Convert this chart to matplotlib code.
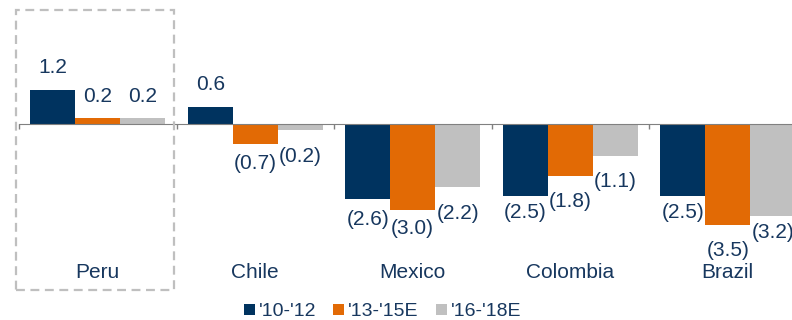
import matplotlib

matplotlib.use("Agg")
import matplotlib.pyplot as plt
import matplotlib.transforms as mtransforms
import numpy as np
from matplotlib.patches import Rectangle

plt.rcParams["font.family"] = ["Liberation Sans", "DejaVu Sans"]

countries = ["Peru", "Chile", "Mexico", "Colombia", "Brazil"]
periods = ["'10-'12", "'13-'15E", "'16-'18E"]
growth_10_12 = [1.2, 0.6, -2.6, -2.5, -2.5]
growth_13_15 = [0.2, -0.7, -3.0, -1.8, -3.5]
growth_16_18 = [0.2, -0.2, -2.2, -1.1, -3.2]

COLORS = ["#00335F", "#E26A05", "#C0C0C0"]
TEXT = "#17375E"
DPI = 100
# per-bar gap (px) between a negative bar's end and its value label
NEG_GAP = [
    [22, 19, 27],
    [22, 19, 27],
    [21, 18, 26],
    [17, 26, 26],
    [17, 25.5, 17],
]


def fmt(value: float) -> str:
    return f"({abs(value):.1f})" if value < 0 else f"{value:.1f}"


fig = plt.figure(figsize=(7.92, 3.2), dpi=DPI, facecolor="white")
# axes spans pixels x 19..806.5 (runs off the right edge), y 10..290
W, H = 792.0, 320.0
ax = fig.add_axes([19 / W, (H - 290) / H, 787.5 / W, 280 / H])
px_per_unit = 28.75
ax.set_ylim(-(290 - 124) / px_per_unit, (124 - 10) / px_per_unit)
ax.set_xlim(0, len(countries))

series = [growth_10_12, growth_13_15, growth_16_18]
width = 45 / 157.5
centers = np.arange(len(countries)) + 0.5
for k, (values, color, label) in enumerate(zip(series, COLORS, periods)):
    xs = centers + (k - 1) * width
    ax.bar(xs, values, width=width, color=color, label=label, zorder=2)
    for i, (x, v) in enumerate(zip(xs, values)):
        gap = 22 if v >= 0 else NEG_GAP[i][k]
        ax.annotate(
            fmt(v),
            xy=(x, v),
            xytext=(0, (gap if v >= 0 else -gap) * 72 / DPI),
            textcoords="offset points",
            ha="center",
            va="center",
            fontsize=15,
            color=TEXT,
        )

# category names sit near the bottom of the axes
trans = mtransforms.blended_transform_factory(ax.transData, ax.transAxes)
for x, name in zip(centers, countries):
    ax.text(x, 18 / 280, name, transform=trans, ha="center", va="center",
            fontsize=15, color=TEXT)

for side in ("top", "right", "left"):
    ax.spines[side].set_visible(False)
ax.spines["bottom"].set_position(("data", 0))
ax.spines["bottom"].set_color("#808080")
ax.spines["bottom"].set_zorder(3)
ax.set_yticks([])
ax.set_xticks(np.arange(len(countries) + 1))
ax.set_xticklabels([])
ax.tick_params(axis="x", direction="out", length=3.8, color="#808080", width=1)

# dashed highlight box around Peru
fig.patches.append(
    Rectangle(
        (16 / W, (H - 290) / H),
        158 / W,
        280 / H,
        transform=fig.transFigure,
        fill=False,
        edgecolor="#BFBFBF",
        linewidth=1.6,
        linestyle=(0, (4, 2.5)),
    )
)

fig.legend(
    loc="center",
    bbox_to_anchor=(382.5 / W, (H - 312) / H),
    ncol=3,
    frameon=False,
    fontsize=14,
    handlelength=0.55,
    handleheight=0.55,
    handletextpad=0.2,
    columnspacing=0.9,
    labelcolor=TEXT,
)

fig.savefig("out.png", dpi=DPI, facecolor="white")
